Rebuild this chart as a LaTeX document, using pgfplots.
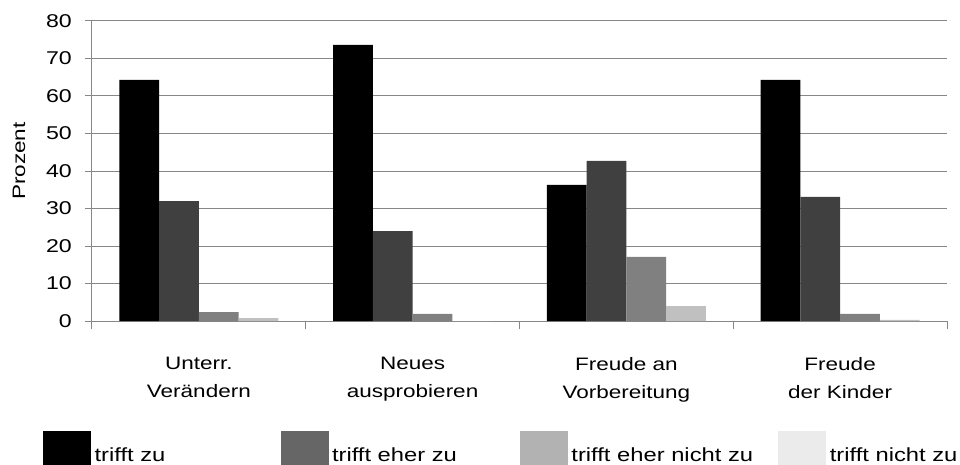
\documentclass[border=0pt]{standalone}
\usepackage{pgfplots}
\pgfplotsset{compat=1.18}
\usepackage{fontspec}
\setmainfont[FakeStretch=1.25]{Liberation Sans}

\definecolor{barA}{HTML}{000000}
\definecolor{barB}{HTML}{404040}
\definecolor{barC}{HTML}{808080}
\definecolor{barD}{HTML}{C0C0C0}
\definecolor{legA}{HTML}{000000}
\definecolor{legB}{HTML}{666666}
\definecolor{legC}{HTML}{B2B2B2}
\definecolor{legD}{HTML}{EBEBEB}
\definecolor{gridgray}{HTML}{878787}

\begin{document}
\begin{tikzpicture}[font=\fontsize{18bp}{28bp}\selectfont]
\useasboundingbox (-92bp,-144bp) rectangle (868bp,321bp);
\begin{axis}[
  scale only axis,
  width=855bp, height=300bp,
  ybar=0pt, bar width=39.7bp,
  xmin=-0.5, xmax=3.5,
  ymin=0, ymax=80,
  ytick={0,10,...,80},
  xtick={0,1,2,3},
  xticklabels={{Unterr.\\Verändern},{Neues\\ausprobieren},{Freude an\\Vorbereitung},{Freude\\der Kinder}},
  minor xtick={-0.5,0.5,1.5,2.5,3.5},
  axis x line*=bottom, axis y line*=left,
  axis line style={gridgray, line width=1bp, -},
  ymajorgrids, grid style={gridgray, line width=1bp},
  major x tick style={draw=none},
  minor x tick style={gridgray, line width=1bp},
  major y tick style={gridgray, line width=1bp},
  tick align=outside,
  major tick length=7bp, minor tick length=8bp,
  /pgf/number format/assume math mode=true,
  yticklabel style={font=\fontsize{18.5bp}{22bp}\selectfont},
  xticklabel style={align=center, anchor=north, inner sep=0pt, yshift=-29bp},
  yticklabel style={anchor=east, inner sep=0pt, xshift=-13bp},
  ylabel={Prozent},
  ylabel style={at={(axis description cs:-0.0854,0.533)}, anchor=center, rotate=0},
  legend columns=4,
  legend style={draw=none, fill=none, inner sep=0pt, column sep=0pt,
    at={(axis description cs:-0.0573,-0.48)}, anchor=south west,
    font=\fontsize{19bp}{24bp}\selectfont,
    nodes={inner sep=0pt, anchor=base west}},
]
\addplot[fill=barA, draw=none, bar shift=-59.55bp, forget plot] coordinates {(0,64.3) (1,73.6) (2,36.3) (3,64.3)};
\addplot[fill=barB, draw=none, bar shift=-19.85bp, forget plot] coordinates {(0,32.0) (1,24.0) (2,42.7) (3,33.1)};
\addplot[fill=barC, draw=none, bar shift=19.85bp, forget plot] coordinates {(0,2.4) (1,1.9) (2,17.1) (3,1.9)};
\addplot[fill=barD, draw=none, bar shift=59.55bp, forget plot] coordinates {(0,0.8) (1,0) (2,4.0) (3,0.3)};

\addlegendimage{legend image code/.code={\fill[legA] (0bp,-3.5bp) rectangle (47bp,29.5bp);}}
\addlegendentry{\makebox[190bp][l]{\hspace{4bp}trifft zu}}
\addlegendimage{legend image code/.code={\fill[legB] (0bp,-3.5bp) rectangle (47bp,29.5bp);}}
\addlegendentry{\makebox[192bp][l]{\hspace{4bp}trifft eher zu}}
\addlegendimage{legend image code/.code={\fill[legC] (0bp,-3.5bp) rectangle (47bp,29.5bp);}}
\addlegendentry{\makebox[211bp][l]{\hspace{4bp}trifft eher nicht zu}}
\addlegendimage{legend image code/.code={\fill[legD] (0bp,-3.5bp) rectangle (47bp,29.5bp);}}
\addlegendentry{\hspace{4bp}trifft nicht zu}
\end{axis}
\end{tikzpicture}
\end{document}
